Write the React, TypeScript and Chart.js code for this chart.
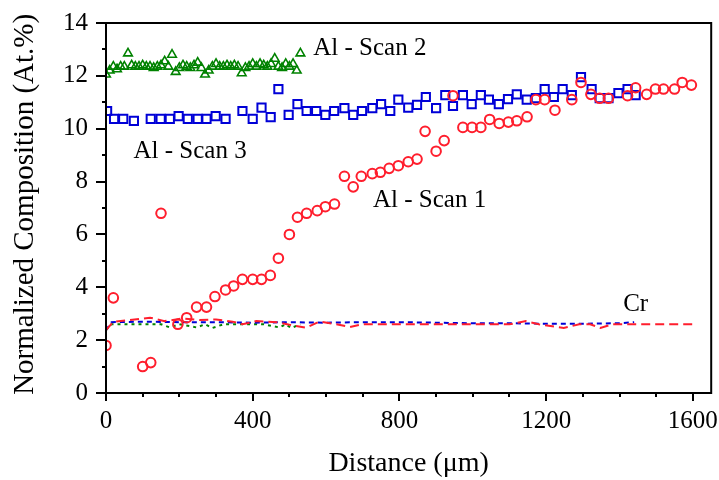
import React, { useEffect, useRef } from 'react';
import { Chart, registerables } from 'chart.js';

Chart.register(...registerables);

// ---------- data ----------
const scan1X = [0, 20, 100, 122, 150, 196, 220, 247, 274, 297, 326, 348, 372, 400, 424, 448, 470, 500, 522, 547, 576, 598, 623, 650, 674, 696, 726, 748, 772, 797, 824, 848, 870, 900, 922, 946, 973, 998, 1022, 1046, 1072, 1097, 1120, 1148, 1172, 1196, 1224, 1270, 1295, 1322, 1346, 1370, 1422, 1444, 1474, 1498, 1520, 1550, 1571, 1596];
const scan1Y = [1.8, 3.6, 1.0, 1.15, 6.8, 2.6, 2.85, 3.25, 3.25, 3.65, 3.9, 4.05, 4.3, 4.3, 4.3, 4.45, 5.1, 6.0, 6.65, 6.8, 6.9, 7.05, 7.15, 8.2, 7.8, 8.2, 8.3, 8.35, 8.5, 8.6, 8.75, 8.85, 9.9, 9.15, 9.55, 11.25, 10.05, 10.05, 10.05, 10.35, 10.2, 10.25, 10.3, 10.45, 11.1, 11.1, 10.7, 11.1, 11.75, 11.3, 11.15, 11.15, 11.25, 11.55, 11.3, 11.5, 11.5, 11.5, 11.75, 11.65];

const scan3X = [3, 22, 47, 76, 122, 149, 174, 198, 223, 250, 274, 299, 326, 372, 400, 424, 449, 470, 498, 522, 547, 573, 598, 622, 650, 674, 698, 726, 750, 775, 797, 824, 848, 872, 900, 925, 946, 973, 997, 1022, 1044, 1071, 1096, 1120, 1147, 1172, 1196, 1221, 1245, 1270, 1295, 1324, 1346, 1370, 1397, 1422, 1444];
const scan3Y = [10.67, 10.37, 10.37, 10.3, 10.37, 10.37, 10.37, 10.48, 10.37, 10.37, 10.37, 10.48, 10.37, 10.67, 10.37, 10.8, 10.44, 11.5, 10.52, 10.93, 10.67, 10.67, 10.52, 10.67, 10.78, 10.52, 10.67, 10.78, 10.93, 10.67, 11.1, 10.8, 10.9, 11.2, 10.78, 11.27, 10.86, 11.27, 10.93, 11.27, 11.1, 10.93, 11.12, 11.3, 11.1, 11.16, 11.5, 11.2, 11.5, 11.27, 11.95, 11.5, 11.16, 11.16, 11.35, 11.5, 11.27];

const scan2X = [0, 10, 20, 30, 40, 50, 60, 70, 80, 90, 100, 110, 120, 130, 140, 150, 160, 170, 180, 190, 200, 210, 220, 230, 240, 250, 260, 270, 280, 290, 300, 310, 320, 330, 340, 350, 360, 370, 380, 390, 400, 410, 420, 430, 440, 450, 460, 470, 480, 490, 500, 510, 520, 530];
const scan2Y = [12.05, 12.2, 12.35, 12.25, 12.35, 12.35, 12.85, 12.4, 12.35, 12.35, 12.4, 12.35, 12.35, 12.3, 12.35, 12.4, 12.55, 12.35, 12.8, 12.15, 12.3, 12.4, 12.35, 12.3, 12.4, 12.5, 12.3, 12.05, 12.2, 12.35, 12.45, 12.35, 12.35, 12.4, 12.35, 12.4, 12.35, 12.1, 12.3, 12.35, 12.45, 12.35, 12.45, 12.4, 12.35, 12.45, 12.65, 12.35, 12.3, 12.45, 12.35, 12.45, 12.2, 12.85];

const cr1X = [0, 20, 60, 120, 160, 210, 255, 300, 345, 372, 410, 465, 500, 546, 582, 620, 665, 700, 800, 900, 1000, 1100, 1145, 1180, 1248, 1290, 1320, 1348, 1380, 1450, 1600];
const cr1Y = [2.38, 2.7, 2.75, 2.85, 2.72, 2.82, 2.76, 2.78, 2.7, 2.6, 2.72, 2.68, 2.58, 2.47, 2.7, 2.62, 2.5, 2.6, 2.6, 2.6, 2.6, 2.6, 2.72, 2.6, 2.46, 2.6, 2.6, 2.46, 2.6, 2.6, 2.6];

const cr3X = [0, 15, 100, 200, 300, 400, 500, 600, 700, 800, 900, 1000, 1100, 1200, 1300, 1400, 1440];
const cr3Y = [2.38, 2.68, 2.7, 2.68, 2.68, 2.66, 2.68, 2.66, 2.68, 2.68, 2.66, 2.64, 2.64, 2.62, 2.62, 2.64, 2.68];

const cr2X = [0, 15, 60, 100, 150, 174, 200, 247, 270, 290, 320, 400, 430, 473, 490, 505, 530];
const cr2Y = [2.38, 2.6, 2.6, 2.6, 2.6, 2.48, 2.6, 2.48, 2.6, 2.46, 2.6, 2.6, 2.6, 2.48, 2.6, 2.46, 2.6];

const xTickLabels = [0, 400, 800, 1200, 1600];
const yTickLabels = [0, 2, 4, 6, 8, 10, 12, 14];

const annotations = [
  { text: 'Al - Scan 2', x: 565, y: 12.79 },
  { text: 'Al - Scan 3', x: 75, y: 8.89 },
  { text: 'Al - Scan 1', x: 728, y: 7.04 },
  { text: 'Cr', x: 1410, y: 3.12 },
];

const RED = 'rgb(255,30,45)';
const BLUE = 'rgb(0,0,215)';
const GREEN = 'rgb(0,130,0)';
const FONT = "'Liberation Serif', 'Times New Roman', serif";

const zip = (xs: number[], ys: number[]) => xs.map((x, i) => ({ x, y: ys[i] }));

const framePlugin = {
  id: 'framePlugin',
  afterDraw(chart: any) {
    const { ctx, chartArea: a, scales } = chart;
    const xs = scales.x;
    const ys = scales.y;
    ctx.save();
    ctx.strokeStyle = '#000';
    ctx.lineWidth = 2;
    ctx.strokeRect(a.left, a.top, a.right - a.left, a.bottom - a.top);
    ctx.beginPath();
    for (let v = 0; v <= 1600; v += 100) {
      const px = Math.round(xs.getPixelForValue(v));
      const len = v % 400 === 0 ? 8 : 4;
      ctx.moveTo(px, a.bottom);
      ctx.lineTo(px, a.bottom + len);
    }
    for (let v = 0; v <= 14; v += 1) {
      const py = Math.round(ys.getPixelForValue(v));
      const len = v % 2 === 0 ? 10 : 4;
      ctx.moveTo(a.left, py);
      ctx.lineTo(a.left - len, py);
    }
    ctx.stroke();
    ctx.fillStyle = '#000';
    ctx.font = `25px ${FONT}`;
    ctx.textBaseline = 'alphabetic';
    ctx.textAlign = 'left';
    for (const an of annotations) {
      ctx.fillText(an.text, xs.getPixelForValue(an.x), ys.getPixelForValue(an.y));
    }
    ctx.restore();
  },
};

export default function App() {
  const ref = useRef<HTMLCanvasElement>(null);
  useEffect(() => {
    if (!ref.current) return;
    const chart = new Chart(ref.current, {
      type: 'scatter',
      data: {
        datasets: [
          {
            label: 'Al - Scan 1',
            data: zip(scan1X, scan1Y),
            pointStyle: 'circle',
            pointRadius: 4.8,
            pointBorderWidth: 2,
            borderColor: RED,
            backgroundColor: 'rgba(0,0,0,0)',
            pointBackgroundColor: 'rgba(0,0,0,0)',
            showLine: false,
          },
          {
            label: 'Al - Scan 3',
            data: zip(scan3X, scan3Y),
            pointStyle: 'rect',
            pointRadius: 5.8,
            pointBorderWidth: 2,
            borderColor: BLUE,
            backgroundColor: 'rgba(0,0,0,0)',
            pointBackgroundColor: 'rgba(0,0,0,0)',
            showLine: false,
          },
          {
            label: 'Al - Scan 2',
            data: zip(scan2X, scan2Y),
            pointStyle: 'triangle',
            pointRadius: 5,
            pointBorderWidth: 1.6,
            borderColor: GREEN,
            backgroundColor: 'rgba(0,0,0,0)',
            pointBackgroundColor: 'rgba(0,0,0,0)',
            showLine: false,
          },
          {
            label: 'Cr - Scan 1',
            data: zip(cr1X, cr1Y),
            showLine: true,
            pointRadius: 0,
            borderColor: RED,
            borderWidth: 2,
            borderDash: [9, 5],
            tension: 0,
          },
          {
            label: 'Cr - Scan 3',
            data: zip(cr3X, cr3Y),
            showLine: true,
            pointRadius: 0,
            borderColor: BLUE,
            borderWidth: 2,
            borderDash: [5, 4],
            tension: 0,
          },
          {
            label: 'Cr - Scan 2',
            data: zip(cr2X, cr2Y),
            showLine: true,
            pointRadius: 0,
            borderColor: GREEN,
            borderWidth: 2,
            borderDash: [3, 4],
            tension: 0,
          },
        ],
      },
      options: {
        responsive: false,
        animation: false,
        layout: { padding: { top: 23, right: 7, left: 0, bottom: 0 } },
        plugins: {
          legend: { display: false },
          tooltip: { enabled: false },
        },
        scales: {
          x: {
            type: 'linear',
            min: 0,
            max: 1650,
            afterFit: (s: any) => { s.height = 87; s.paddingLeft = 0; s.paddingRight = 0; },
            afterBuildTicks: (s: any) => { s.ticks = xTickLabels.map((v) => ({ value: v })); },
            grid: { display: false, drawTicks: false },
            border: { display: false },
            ticks: { color: '#000', font: { family: FONT, size: 25 }, padding: 13, maxRotation: 0, autoSkip: false, callback: (v: any) => String(v) },
            title: { display: true, text: 'Distance (μm)', color: '#000', font: { family: FONT, size: 28 }, padding: { top: 0, bottom: 0 } },
          },
          y: {
            type: 'linear',
            min: 0,
            max: 14,
            afterFit: (s: any) => { s.width = 106; s.paddingTop = 0; s.paddingBottom = 0; },
            afterBuildTicks: (s: any) => { s.ticks = yTickLabels.map((v) => ({ value: v })); },
            grid: { display: false, drawTicks: false },
            border: { display: false },
            ticks: { color: '#000', font: { family: FONT, size: 25 }, padding: 18, autoSkip: false, callback: (v: any) => String(v) },
            title: { display: true, text: ' Normalized Composition (At.%)', color: '#000', font: { family: FONT, size: 29 }, padding: { top: 8, bottom: 0 } },
          },
        },
      },
      plugins: [framePlugin],
    } as any);
    return () => chart.destroy();
  }, []);
  return (
    <div style={{ position: 'fixed', left: 0, top: 0, width: 719, height: 480, background: '#fff' }}>
      <canvas ref={ref} width={719} height={480} style={{ display: 'block', width: 719, height: 480 }} />
    </div>
  );
}
